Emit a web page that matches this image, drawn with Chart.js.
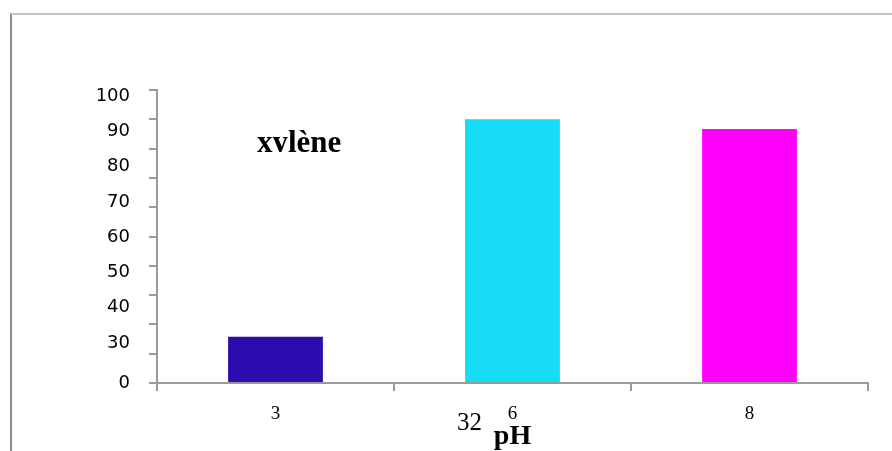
<!DOCTYPE html>
<html>
<head>
<meta charset="utf-8">
<script src="https://cdn.jsdelivr.net/npm/chart.js@4/dist/chart.umd.min.js"></script>
<style>
  html, body { margin: 0; padding: 0; background: #fff; }
  #wrap { position: relative; width: 892px; height: 451px; overflow: hidden; }
  #frame { position: absolute; left: 10px; top: 13px; width: 900px; height: 460px;
           border-top: 2px solid #c4c4c4; border-left: 2px solid #8c8c8c; }
  canvas { position: absolute; left: 0; top: 0; }
  .note { position: absolute; font-family: "Liberation Serif", "Times New Roman", serif; color: #000; white-space: nowrap; }
  #species { left: 257px; top: 126px; height: 26px; overflow: hidden; font-size: 31px; line-height: 31px; font-weight: bold; }
  #pageNo { left: 457px; top: 409px; font-size: 25px; line-height: 25px; }
</style>
</head>
<body>
<div id="wrap">
  <div id="frame"></div>
  <canvas id="c" width="892" height="451"></canvas>
  <div class="note" id="species">xylène</div>
  <div class="note" id="pageNo">32</div>
</div>
<script>
// pH values tested and removal (%) for each
const phLevels = ['3', '6', '8'];
const removal = [15.8, 90, 86.7];
const barColors = ['#2c0cae', '#16dcf5', '#ff00ff'];

// value-axis tick marks and the printed labels beside them
const tickStep = 10;
const yMin = 0;
const yMax = 100;
const printedLabels = [30, 40, 50, 60, 70, 80, 90, 100];
const zeroLabel = '0';
// range of the label column (its spacing differs from the tick marks)
const labelMin = 18.66;
const labelMax = 101.7;

const axisGrey = '#9a9a9a';

new Chart(document.getElementById('c'), {
  type: 'bar',
  data: {
    labels: phLevels,
    datasets: [{
      data: removal,
      xAxisID: 'x',
      yAxisID: 'y',
      backgroundColor: barColors,
      borderWidth: 0,
      barPercentage: 0.4,
      categoryPercentage: 1
    }]
  },
  options: {
    responsive: false,
    animation: false,
    events: [],
    layout: { padding: { top: 90, right: 24, bottom: 0, left: 0 } },
    plugins: { legend: { display: false }, tooltip: { enabled: false }, title: { display: false } },
    scales: {
      x: {
        type: 'category',
        offset: true,
        grid: { offset: true, drawOnChartArea: false, drawTicks: true, tickLength: 8, color: axisGrey, lineWidth: 2 },
        border: { display: true, color: axisGrey, width: 2 },
        ticks: { color: '#000', padding: 12, font: { family: 'Liberation Serif', size: 19 } },
        title: {
          display: true, text: 'pH', color: '#000',
          font: { family: 'Liberation Serif', size: 28, weight: 'bold', lineHeight: 1 },
          padding: { top: 0, bottom: 0 }
        },
        afterFit: (s) => { s.height = 68; }
      },
      yl: {
        type: 'linear',
        position: 'left',
        weight: 1,
        min: labelMin,
        max: labelMax,
        grid: { display: false, drawTicks: false },
        border: { display: false },
        ticks: {
          autoSkip: false,
          color: '#000',
          padding: 19,
          font: { family: 'DejaVu Sans', size: 18 },
          callback: (v) => (v === labelMin ? zeroLabel : String(v))
        },
        afterBuildTicks: (s) => {
          s.ticks = [labelMin, ...printedLabels].map((v) => ({ value: v }));
        },
        afterFit: (s) => { s.width = 149; }
      },
      y: {
        type: 'linear',
        position: 'left',
        weight: 0,
        min: yMin,
        max: yMax,
        ticks: { display: false, stepSize: tickStep },
        grid: { drawOnChartArea: false, drawTicks: true, tickLength: 8, color: axisGrey, lineWidth: 2 },
        border: { display: true, color: axisGrey, width: 2 },
        afterFit: (s) => { s.width = 8; }
      }
    }
  }
});
</script>
</body>
</html>
